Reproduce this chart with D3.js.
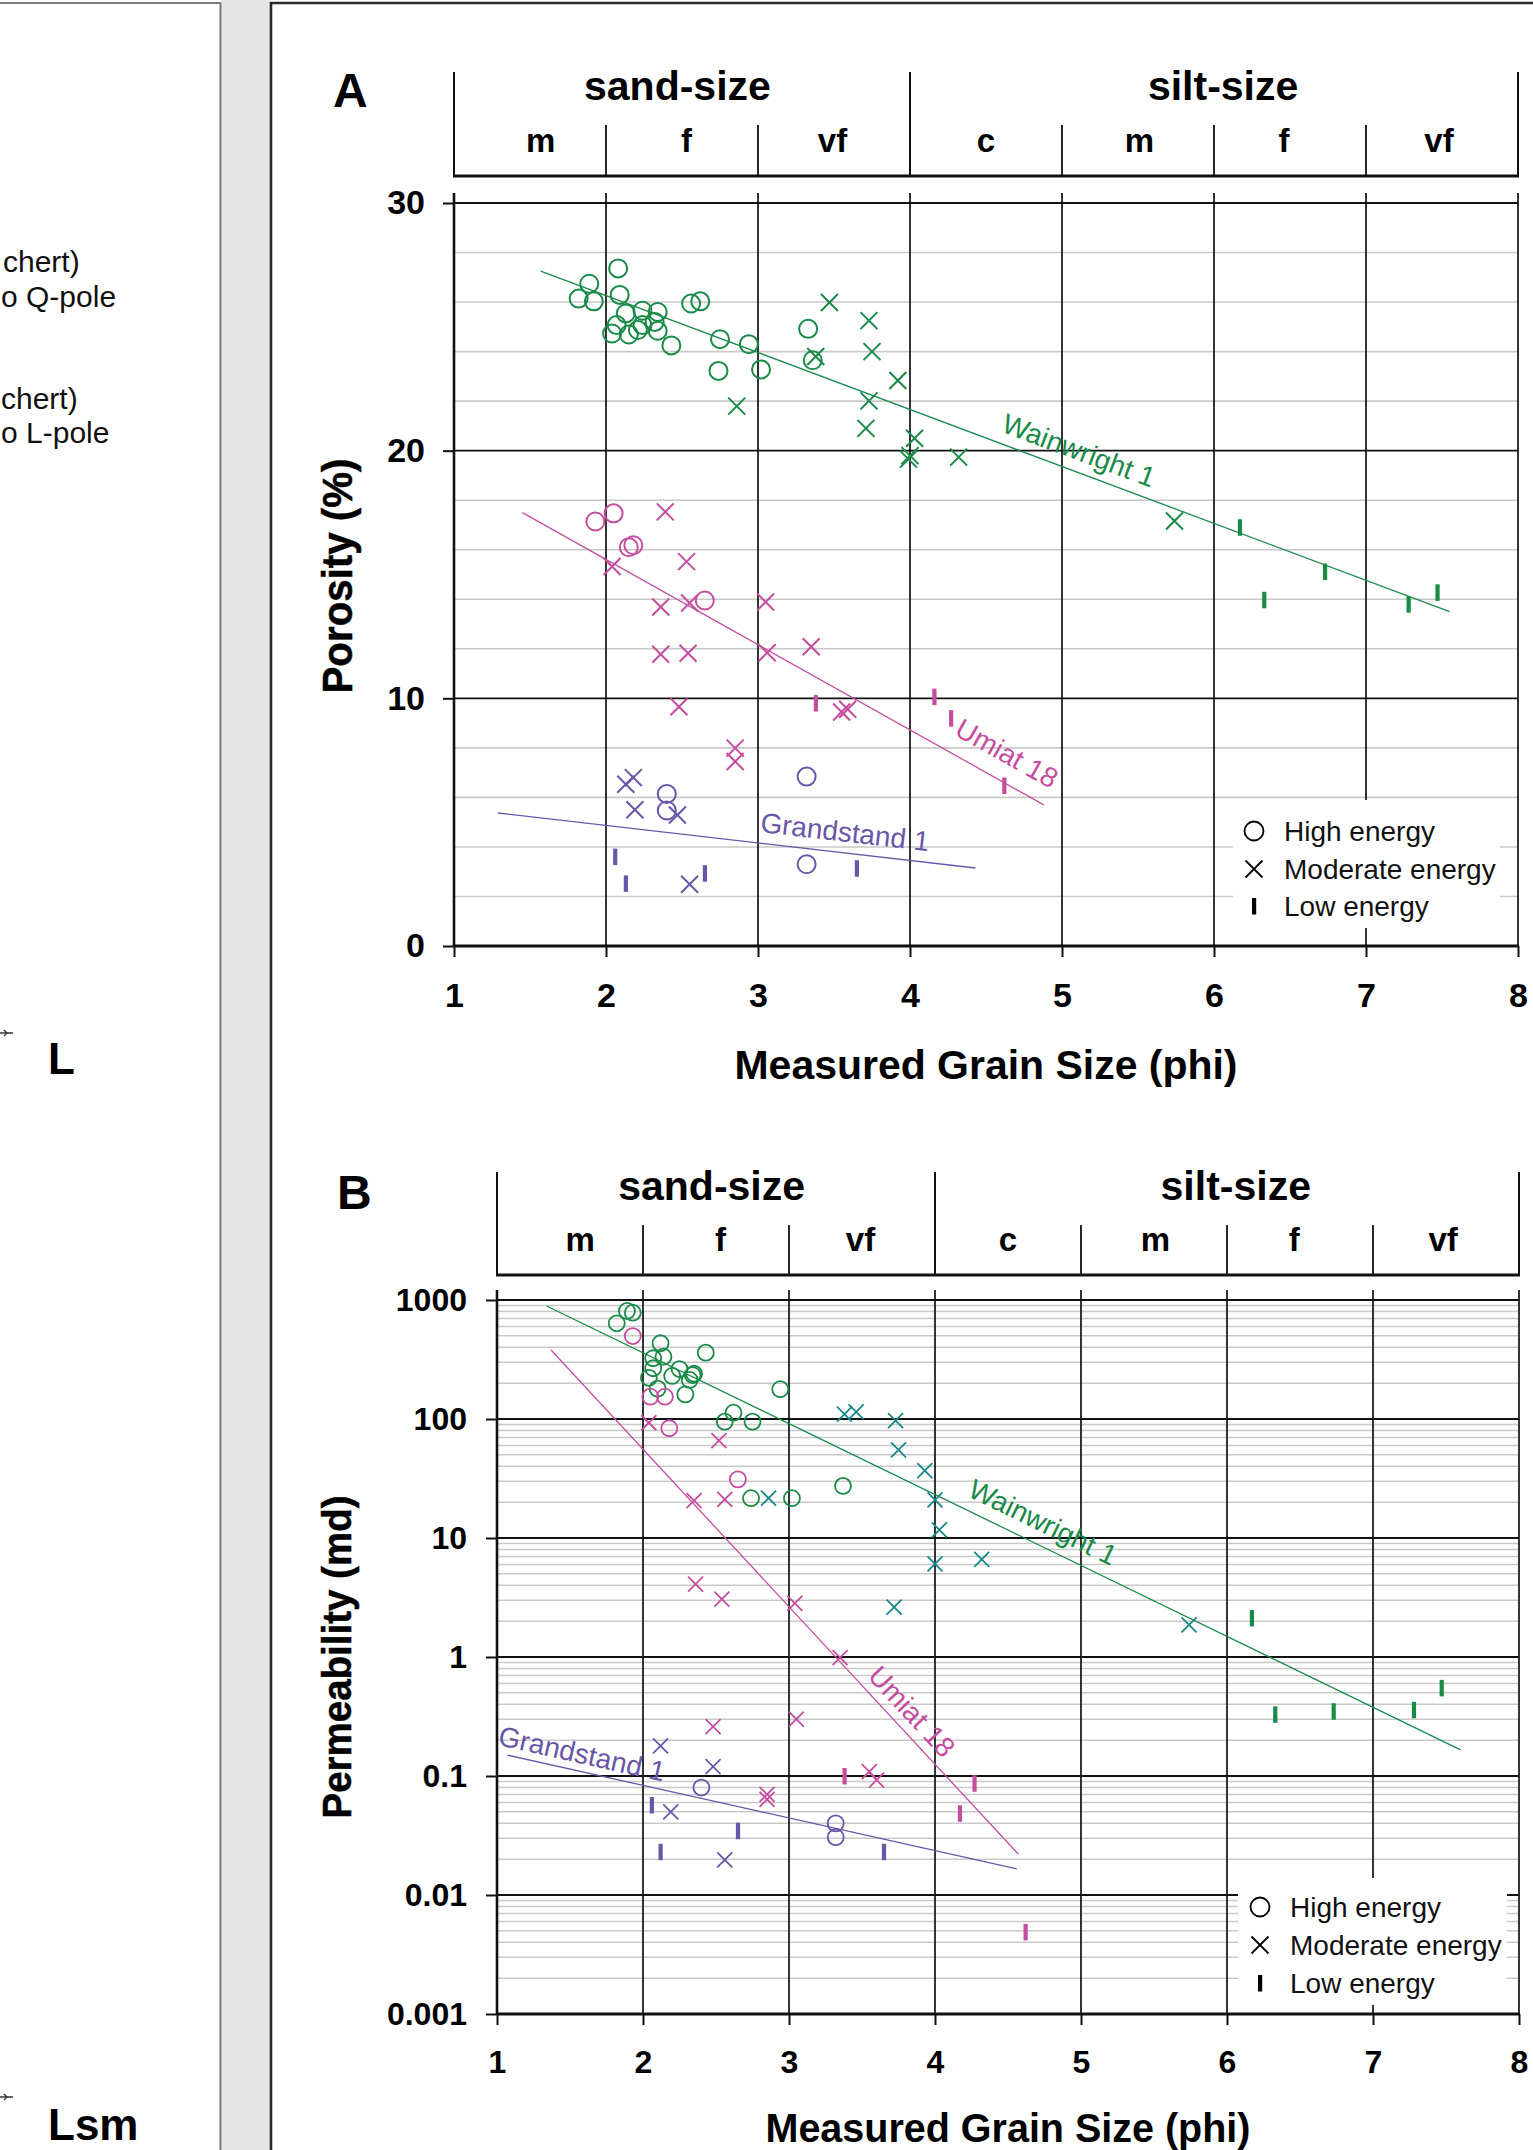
<!DOCTYPE html>
<html><head><meta charset="utf-8">
<script src="https://cdn.jsdelivr.net/npm/d3@7"></script>
<style>
body{margin:0;background:#fff}
svg{display:block}
text{font-family:"Liberation Sans",Arial,Helvetica,sans-serif}
</style>
</head><body>
<svg id="c" width="1533" height="2150"></svg>
<script>
// ---------- axis / category data ----------
const phiTicks = [1,2,3,4,5,6,7,8];
const porosityTicks = [0,10,20,30];
const porosityMinor = [2,4,6,8,12,14,16,18,22,24,26,28];
const permTicks = [0.001,0.01,0.1,1,10,100,1000];
const permTickLabels = ["0.001","0.01","0.1","1","10","100","1000"];
const sizeClasses = ["sand-size","silt-size"];
const sizeClassPhi = [2.47,6.06];
const classBounds = [1,4,8];
const subClasses = ["m","f","vf","c","m","f","vf"];
const subClassPhi = [1.57,2.53,3.49,4.5,5.51,6.46,7.48];
const subBounds = [2,3,5,6,7];
const wells = ["Wainwright 1","Umiat 18","Grandstand 1"];
const energies = ["High energy","Moderate energy","Low energy"];

// ---------- panel A: porosity (%) vs grain size (phi) ----------
const porWainHigh = [[2.08,27.36],[1.89,26.74],[1.82,26.14],[1.92,26.03],[2.09,26.29],[2.13,25.54],[2.24,25.65],[2.34,25.6],[2.07,25.07],[2.04,24.73],[2.15,24.69],[2.21,24.87],[2.24,25.07],[2.32,25.2],[2.34,24.84],[2.43,24.25],[2.56,25.94],[2.62,26.03],[2.75,24.5],[2.94,24.3],[2.74,23.22],[3.02,23.28],[3.33,24.92],[3.36,23.65]];
const porWainMod = [[3.47,25.98],[3.73,25.25],[3.75,24.0],[3.38,23.8],[3.92,22.83],[2.86,21.8],[3.73,22.01],[3.71,20.9],[4.03,20.5],[3.99,19.66],[4.0,19.8],[4.32,19.74],[5.74,17.16]];
const porWainLow = [[6.17,16.91],[6.73,15.12],[6.33,13.98],[7.28,13.8],[7.47,14.28]];
const porUmiHigh = [[1.93,17.14],[2.05,17.47],[2.15,16.1],[2.18,16.18],[2.65,13.95]];
const porUmiMod = [[2.39,17.53],[2.04,15.32],[2.53,15.52],[2.36,13.69],[2.55,13.85],[3.05,13.89],[2.36,11.78],[2.54,11.82],[3.06,11.84],[3.35,12.08],[2.48,9.66],[3.55,9.45],[3.59,9.56],[2.85,7.99],[2.85,7.45]];
const porUmiLow = [[3.38,9.81],[4.16,10.07],[4.27,9.2],[4.62,6.48]];
const porGraHigh = [[3.32,6.84],[2.4,6.14],[2.4,5.47],[3.32,3.3]];
const porGraMod = [[2.18,6.8],[2.13,6.53],[2.19,5.5],[2.47,5.29],[2.55,2.49]];
const porGraLow = [[2.06,3.61],[2.13,2.53],[2.65,2.94],[3.65,3.14]];
const porTrendWain = [[1.57,27.25],[7.55,13.5]];
const porTrendUmi = [[1.45,17.5],[4.88,5.7]];
const porTrendGra = [[1.29,5.37],[4.43,3.15]];

// ---------- panel B: permeability (md) vs grain size (phi) ----------
const permWainHigh = [[1.89,809],[1.93,782],[1.82,637],[2.12,433],[2.43,361],[2.07,324],[2.14,334],[2.07,267],[2.04,222],[2.2,230],[2.25,263],[2.34,234],[2.32,213],[2.35,240],[2.29,161],[2.94,178],[2.62,113],[2.56,95],[2.75,95],[2.74,21.6],[3.02,21.6],[3.37,27.4],[2.1,180]];
const permWainMod = [[3.38,110],[3.46,115],[3.73,96.8],[3.75,55],[3.93,36.8],[4.0,20.9],[4.03,11.7],[4.0,6.05],[4.32,6.6],[2.86,21.6],[3.72,2.62],[5.74,1.86]];
const permWainLow = [[6.17,2.13],[6.33,0.33],[6.73,0.35],[7.28,0.36],[7.47,0.55]];
const permUmiHigh = [[1.93,498],[2.05,154],[2.15,154],[2.18,83.6],[2.65,31.1]];
const permUmiMod = [[2.04,93],[2.52,65.8],[2.35,20.6],[2.56,21.1],[2.36,4.1],[2.54,3.07],[3.04,2.82],[3.35,0.99],[3.05,0.3],[2.48,0.26],[3.55,0.109],[3.6,0.0925],[2.85,0.07],[2.85,0.0637]];
const permUmiLow = [[3.38,0.1],[4.27,0.087],[4.17,0.0486],[4.62,0.0049]];
const permGraHigh = [[2.4,0.08],[3.32,0.04],[3.32,0.0306]];
const permGraMod = [[2.12,0.179],[2.48,0.12],[2.19,0.05],[2.56,0.0197]];
const permGraLow = [[2.06,0.057],[2.12,0.0231],[2.65,0.0347],[3.65,0.0231]];
const permTrendWain = [[1.34,891],[7.6,0.166]];
const permTrendUmi = [[1.37,380],[4.57,0.0221]];
const permTrendGra = [[1.07,0.15],[4.56,0.0166]];

// ---------- drawing ----------
const C = {green:"#198a48", teal:"#17898a", magenta:"#c44d9f", purple:"#6a56a9", grid:"#c9c9c9", ink:"#111"};
const svg = d3.select("#c");
svg.append("rect").attr("width",1533).attr("height",2150).attr("fill","#fff");

// surrounding page frame (left neighbouring figure, gutter)
svg.append("rect").attr("x",221).attr("y",0).attr("width",49).attr("height",2150).attr("fill","#e5e6e5");
svg.append("line").attr("x1",220.5).attr("x2",220.5).attr("y1",3).attr("y2",2150).attr("stroke","#7a7a7a").attr("stroke-width",2);
svg.append("line").attr("x1",0).attr("x2",221).attr("y1",3).attr("y2",3).attr("stroke","#7a7a7a").attr("stroke-width",2);
svg.append("line").attr("x1",271).attr("x2",271).attr("y1",2).attr("y2",2150).attr("stroke","#2a2a2a").attr("stroke-width",2.6);
svg.append("line").attr("x1",270).attr("x2",1533).attr("y1",3).attr("y2",3).attr("stroke","#2a2a2a").attr("stroke-width",2.6);

const lp = svg.append("g");
const lpText = [["chert)",3,272],["o Q-pole",1,307],["chert)",1,409],["o L-pole",1,443]];
lpText.forEach(d=>lp.append("text").attr("x",d[1]).attr("y",d[2]).attr("font-size",30).attr("fill","#111").text(d[0]));
lp.append("text").attr("x",48).attr("y",1074).attr("font-size",44).attr("font-weight","bold").text("L");
lp.append("text").attr("x",48).attr("y",2140).attr("font-size",44).attr("font-weight","bold").text("Lsm");
[1033,2097].forEach(yy=>{
  lp.append("line").attr("x1",0).attr("x2",13).attr("y1",yy).attr("y2",yy).attr("stroke","#333").attr("stroke-width",1.5);
  lp.append("path").attr("d",`M4,${yy-3}L7,${yy}L4,${yy+3}`).attr("fill","none").attr("stroke","#333").attr("stroke-width",1.3);
});

function marker(g, type, cx, cy, color, s){
  if(type==="High energy"){
    g.append("circle").attr("cx",cx).attr("cy",cy).attr("r",s.r).attr("fill","none").attr("stroke",color).attr("stroke-width",s.sw);
  } else if(type==="Moderate energy"){
    const h=s.h;
    g.append("path").attr("d",`M${cx-h},${cy-h}L${cx+h},${cy+h}M${cx-h},${cy+h}L${cx+h},${cy-h}`).attr("stroke",color).attr("stroke-width",s.sw).attr("fill","none");
  } else {
    g.append("rect").attr("x",cx-2).attr("y",cy-8).attr("width",4.2).attr("height",16.5).attr("fill",color);
  }
}

function header(g, x, top, subTop, bottom){
  classBounds.forEach(v=>g.append("line").attr("x1",x(v)).attr("x2",x(v)).attr("y1",top).attr("y2",bottom).attr("stroke",C.ink).attr("stroke-width",2));
  subBounds.forEach(v=>g.append("line").attr("x1",x(v)).attr("x2",x(v)).attr("y1",subTop).attr("y2",bottom).attr("stroke",C.ink).attr("stroke-width",1.8));
  g.append("line").attr("x1",x(1)-1).attr("x2",x(8)+1).attr("y1",bottom).attr("y2",bottom).attr("stroke",C.ink).attr("stroke-width",3);
  sizeClasses.forEach((t,i)=>g.append("text").attr("x",x(sizeClassPhi[i])).attr("y",top+28).attr("text-anchor","middle").attr("font-size",41).attr("font-weight","bold").text(t));
  subClasses.forEach((t,i)=>g.append("text").attr("x",x(subClassPhi[i])).attr("y",bottom-24).attr("text-anchor","middle").attr("font-size",33).attr("font-weight","bold").text(t));
}

function trend(g, x, y, pts, color){
  g.append("line").attr("x1",x(pts[0][0])).attr("y1",y(pts[0][1])).attr("x2",x(pts[1][0])).attr("y2",y(pts[1][1])).attr("stroke",color).attr("stroke-width",1.3);
}
function lineLabel(g, x, y, pts, phi, txt, color, off){
  const x1=x(pts[0][0]), y1=y(pts[0][1]), x2=x(pts[1][0]), y2=y(pts[1][1]);
  const ang=Math.atan2(y2-y1,x2-x1)*180/Math.PI;
  const t=(phi-pts[0][0])/(pts[1][0]-pts[0][0]);
  const px=x1+t*(x2-x1), py=y1+t*(y2-y1);
  g.append("text").attr("transform",`translate(${px},${py}) rotate(${ang})`).attr("y",-off).attr("dy","0.35em")
    .attr("text-anchor","middle").attr("font-size",28).attr("fill",color).text(txt);
}

function legend(g, box, rows, symX, txtX){
  g.append("rect").attr("x",box[0]).attr("y",box[1]).attr("width",box[2]).attr("height",box[3]).attr("fill","#fff");
  energies.forEach((e,i)=>{
    marker(g, e, symX, rows[i], "#000", {r:9.5, h:8.5, sw:1.8});
    g.append("text").attr("x",txtX).attr("y",rows[i]).attr("dy","0.35em").attr("font-size",28).attr("fill","#111").text(e);
  });
}

function styleAxis(ax, fs){
  ax.select(".domain").remove();
  ax.selectAll(".tick line").attr("stroke",C.ink).attr("stroke-width",2);
  ax.selectAll(".tick text").attr("font-size",fs).attr("font-weight","bold").attr("fill","#000")
    .attr("font-family",'"Liberation Sans",Arial,sans-serif');
}

// ======== PANEL A ========
(function(){
  const x = d3.scaleLinear().domain([1,8]).range([454,1518]);
  const y = d3.scaleLinear().domain([0,30]).range([946,203]);
  const g = svg.append("g");
  g.selectAll(".mn").data(porosityMinor).join("line").attr("x1",x(1)).attr("x2",x(8)).attr("y1",d=>y(d)).attr("y2",d=>y(d)).attr("stroke",C.grid).attr("stroke-width",1.6);
  g.selectAll(".mj").data(porosityTicks.slice(1)).join("line").attr("x1",x(1)).attr("x2",x(8)).attr("y1",d=>y(d)).attr("y2",d=>y(d)).attr("stroke",C.ink).attr("stroke-width",1.8);
  g.selectAll(".vg").data(phiTicks).join("line").attr("x1",d=>x(d)).attr("x2",d=>x(d)).attr("y1",y(30)-10).attr("y2",y(0)).attr("stroke",C.ink).attr("stroke-width",d=>d===1?2.6:1.7);
  g.append("line").attr("x1",x(1)).attr("x2",x(8)+1).attr("y1",y(0)).attr("y2",y(0)).attr("stroke",C.ink).attr("stroke-width",3);
  const ay = g.append("g").attr("transform",`translate(${x(1)},0)`).call(d3.axisLeft(y).tickValues(porosityTicks).tickSize(11).tickPadding(18).tickFormat(d3.format("d")));
  styleAxis(ay,34);
  const ax = g.append("g").attr("transform",`translate(0,${y(0)})`).call(d3.axisBottom(x).tickValues(phiTicks).tickSize(11).tickPadding(26).tickFormat(d3.format("d")));
  styleAxis(ax,34);
  header(g, x, 72, 125, 176);
  g.append("text").attr("x",333).attr("y",107).attr("font-size",48).attr("font-weight","bold").text("A");
  g.append("text").attr("x",x(4.5)).attr("y",1079).attr("text-anchor","middle").attr("font-size",40.5).attr("font-weight","bold").attr("textLength",503).attr("lengthAdjust","spacingAndGlyphs").text("Measured Grain Size (phi)");
  g.append("text").attr("transform","translate(352,576) rotate(-90)").attr("text-anchor","middle").attr("font-size",42).attr("font-weight","bold").attr("textLength",235).attr("lengthAdjust","spacingAndGlyphs").attr("stroke","#000").attr("stroke-width",0.5).text("Porosity (%)");

  legend(g,[1233,800,267,128],[831,869,906],1254,1284);

  trend(g,x,y,porTrendWain,C.green);
  trend(g,x,y,porTrendUmi,C.magenta);
  trend(g,x,y,porTrendGra,C.purple);
  lineLabel(g,x,y,porTrendWain,5.063,wells[0],C.green,21);
  lineLabel(g,x,y,porTrendUmi,4.551,wells[1],C.magenta,27);
  lineLabel(g,x,y,porTrendGra,3.557,wells[2],C.purple,21);

  const st={r:9,h:8.5,sw:2};
  const sets=[[porWainHigh,energies[0],C.green],[porWainMod,energies[1],C.green],[porWainLow,energies[2],C.green],
    [porUmiHigh,energies[0],C.magenta],[porUmiMod,energies[1],C.magenta],[porUmiLow,energies[2],C.magenta],
    [porGraHigh,energies[0],C.purple],[porGraMod,energies[1],C.purple],[porGraLow,energies[2],C.purple]];
  const mg=g.append("g");
  sets.forEach(s=>s[0].forEach(p=>marker(mg,s[1],x(p[0]),y(p[1]),s[2],st)));
})();

// ======== PANEL B ========
(function(){
  const x = d3.scaleLinear().domain([1,8]).range([497,1519]);
  const y = d3.scaleLog().domain([0.001,1000]).range([2014,1300]);
  const g = svg.append("g");
  const minor = y.ticks().filter(v=>permTicks.indexOf(v)<0 && v>0.001 && v<1000);
  g.selectAll(".mn").data(minor).join("line").attr("x1",x(1)).attr("x2",x(8)).attr("y1",d=>y(d)).attr("y2",d=>y(d)).attr("stroke",C.grid).attr("stroke-width",1.5);
  g.selectAll(".mj").data(permTicks.slice(1)).join("line").attr("x1",x(1)).attr("x2",x(8)).attr("y1",d=>y(d)).attr("y2",d=>y(d)).attr("stroke",C.ink).attr("stroke-width",1.8);
  g.selectAll(".vg").data(phiTicks).join("line").attr("x1",d=>x(d)).attr("x2",d=>x(d)).attr("y1",y(1000)-10).attr("y2",y(0.001)).attr("stroke",C.ink).attr("stroke-width",d=>d===1?2.6:1.7);
  g.append("line").attr("x1",x(1)).attr("x2",x(8)+1).attr("y1",y(0.001)).attr("y2",y(0.001)).attr("stroke",C.ink).attr("stroke-width",3);
  const ay = g.append("g").attr("transform",`translate(${x(1)},0)`).call(d3.axisLeft(y).tickValues(permTicks).tickSize(11).tickPadding(19).tickFormat((d,i)=>permTickLabels[i]));
  styleAxis(ay,32);
  const ax = g.append("g").attr("transform",`translate(0,${y(0.001)})`).call(d3.axisBottom(x).tickValues(phiTicks).tickSize(11).tickPadding(25).tickFormat(d3.format("d")));
  styleAxis(ax,32);
  header(g, x, 1172, 1225, 1275);
  g.append("text").attr("x",337).attr("y",1209).attr("font-size",48).attr("font-weight","bold").text("B");
  g.append("text").attr("x",x(4.5)).attr("y",2142).attr("text-anchor","middle").attr("font-size",40.5).attr("font-weight","bold").attr("textLength",485).attr("lengthAdjust","spacingAndGlyphs").text("Measured Grain Size (phi)");
  g.append("text").attr("transform","translate(351,1657) rotate(-90)").attr("text-anchor","middle").attr("font-size",41).attr("font-weight","bold").attr("textLength",323).attr("lengthAdjust","spacingAndGlyphs").attr("stroke","#000").attr("stroke-width",0.5).text("Permeability (md)");

  legend(g,[1238,1878,269,127],[1907,1945,1983],1260,1290);

  trend(g,x,y,permTrendWain,C.green);
  trend(g,x,y,permTrendUmi,C.magenta);
  trend(g,x,y,permTrendGra,C.purple);
  lineLabel(g,x,y,permTrendWain,4.673,wells[0],C.green,22.5);
  lineLabel(g,x,y,permTrendUmi,3.747,wells[1],C.magenta,19);
  lineLabel(g,x,y,permTrendGra,1.556,wells[2],C.purple,17.6);

  const st={r:8,h:7.5,sw:1.8};
  const sets=[[permWainHigh,energies[0],C.green],[permWainMod,energies[1],C.teal],[permWainLow,energies[2],C.green],
    [permUmiHigh,energies[0],C.magenta],[permUmiMod,energies[1],C.magenta],[permUmiLow,energies[2],C.magenta],
    [permGraHigh,energies[0],C.purple],[permGraMod,energies[1],C.purple],[permGraLow,energies[2],C.purple]];
  const mg=g.append("g");
  sets.forEach(s=>s[0].forEach(p=>marker(mg,s[1],x(p[0]),y(p[1]),s[2],st)));
})();
</script>
</body></html>
